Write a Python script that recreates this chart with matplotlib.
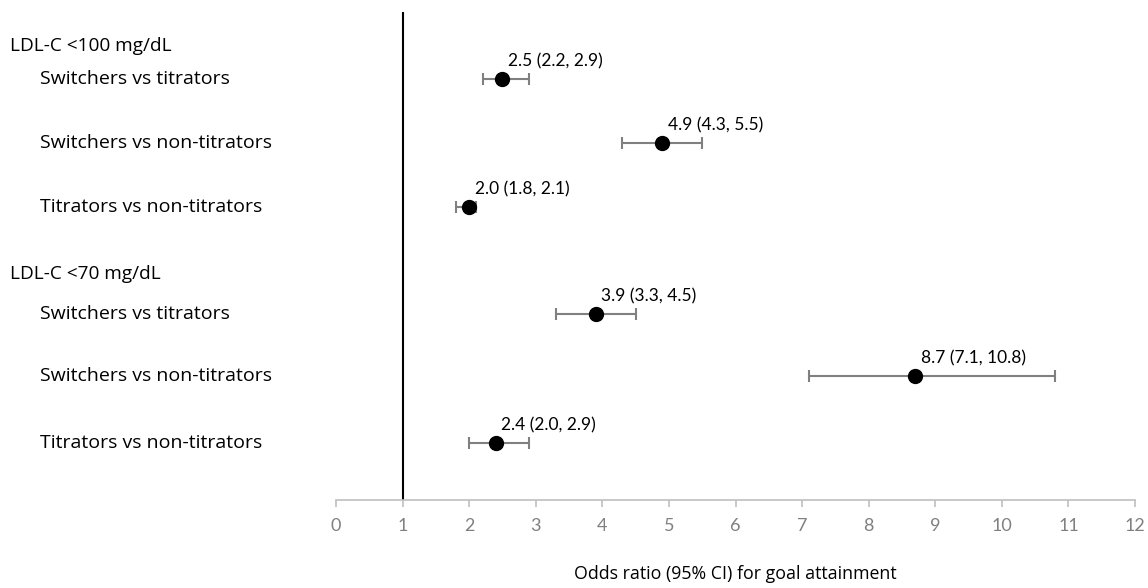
import matplotlib
matplotlib.use("Agg")
import matplotlib.pyplot as plt
from matplotlib.transforms import blended_transform_factory

# data
groups = ["LDL-C <100 mg/dL", "LDL-C <70 mg/dL"]
group_y = [7.05, 3.5]
comparisons = ["Switchers vs titrators", "Switchers vs non-titrators", "Titrators vs non-titrators",
               "Switchers vs titrators", "Switchers vs non-titrators", "Titrators vs non-titrators"]
row_y = [6.53, 5.53, 4.54, 2.88, 1.92, 0.88]
odds = [2.5, 4.9, 2.0, 3.9, 8.7, 2.4]
ci_low = [2.2, 4.3, 1.8, 3.3, 7.1, 2.0]
ci_high = [2.9, 5.5, 2.1, 4.5, 10.8, 2.9]

plt.rcParams['font.family'] = ['Lato', 'DejaVu Sans']

fig = plt.figure(figsize=(11.48, 5.88), dpi=100)
ax = fig.add_axes([0.2927, 0.1497, 0.6960, 0.8299])

err_lo = [o - l for o, l in zip(odds, ci_low)]
err_hi = [h - o for o, h in zip(odds, ci_high)]
ax.errorbar(odds, row_y, xerr=[err_lo, err_hi], fmt='o', color='black', ms=10,
            ecolor='#808080', elinewidth=1.5, capsize=4, capthick=1.5, zorder=3)

for o, l, h, y in zip(odds, ci_low, ci_high, row_y):
    ax.annotate(f"{o:.1f} ({l:.1f}, {h:.1f})", (o, y), xytext=(4, 7),
                textcoords='offset points', fontsize=12.5, ha='left', va='bottom')

ax.axvline(1, color='black', lw=1.5, zorder=2)

ax.set_xlim(0, 12)
ax.set_ylim(0, 7.57)
ax.set_xticks(range(0, 13))
ax.set_yticks([])
for s in ['top', 'right', 'left']:
    ax.spines[s].set_visible(False)
ax.spines['bottom'].set_color('#bfbfbf')
ax.spines['bottom'].set_linewidth(1.2)
ax.tick_params(axis='x', colors='#bfbfbf', length=5, width=1.2, labelcolor='#808080',
               labelsize=13, pad=8)
ax.set_xlabel("Odds ratio (95% CI) for goal attainment", fontsize=12.8,
              family=['Open Sans', 'DejaVu Sans'], labelpad=22)

tr = blended_transform_factory(fig.transFigure, ax.transData)
for g, y in zip(groups, group_y):
    ax.text(10 / 1148, y, g, transform=tr, fontsize=13.7,
            family=['Open Sans', 'DejaVu Sans'], va='center', ha='left')
for c, y in zip(comparisons, row_y):
    ax.text(40 / 1148, y, c, transform=tr, fontsize=14,
            family=['Open Sans', 'DejaVu Sans'], va='center', ha='left')

fig.savefig("out.png", dpi=100)
